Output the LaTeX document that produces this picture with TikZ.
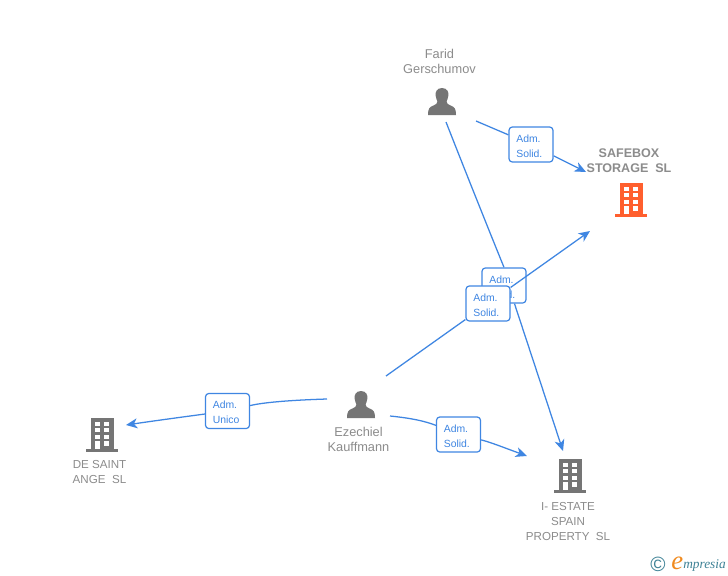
\documentclass[tikz,border=0pt]{standalone}
\usepackage{fontspec}
\setmainfont{Liberation Sans}
\newfontfamily\logofont{Liberation Serif}
\usetikzlibrary{arrows.meta}
\definecolor{linkblue}{HTML}{3F86E2}
\definecolor{labtext}{HTML}{3F86E2}
\definecolor{greytext}{HTML}{8C8C8C}
\definecolor{icongrey}{HTML}{757575}
\definecolor{iconorange}{HTML}{FF5F2E}
\definecolor{logoteal}{HTML}{3E8296}
\definecolor{logoorange}{HTML}{F08A1E}
\pgfdeclarelayer{bglines}
\pgfdeclarelayer{rearlabels}
\pgfdeclarelayer{toplines}
\pgfsetlayers{bglines,rearlabels,toplines,main}
\tikzset{
  x=0.75pt,y=-0.75pt,
  conn/.style={draw=linkblue,line width=0.95pt,-{Stealth[length=8.5pt,width=7.5pt,inset=2.5pt]}},
  lab/.style={draw=linkblue,line width=0.9pt,rounded corners=2.5pt,fill=white,minimum width=33pt,minimum height=26.3pt,inner sep=0pt,
    text=labtext,font=\fontsize{7.8pt}{11.25pt}\selectfont,align=left,text width=22pt},
  nametext/.style={text=greytext,font=\fontsize{9.6pt}{11.25pt}\selectfont,align=center,inner sep=0pt},
  capsname/.style={nametext,font=\fontsize{8.7pt}{11.25pt}\selectfont},
  boldname/.style={nametext,font=\fontsize{9.4pt}{11.25pt}\selectfont\bfseries},
  iconbox/.style={minimum width=24pt,minimum height=25pt,inner sep=0pt}
}
\newcommand{\personicon}[1]{%
  \begin{scope}[shift={(#1)}]
    \fill[icongrey] (0,-14) .. controls (-5.5,-14) and (-6.8,-9.5) .. (-6.4,-6.5)
      .. controls (-6.1,-3.5) and (-5,-2) .. (-4.6,-0.5)
      .. controls (-4.6,1.5) and (-6,2.5) .. (-8.5,3.5)
      .. controls (-12.5,5) and (-14,6.5) .. (-14,13) -- (14,13)
      .. controls (14,6.5) and (12.5,5) .. (8.5,3.5)
      .. controls (6,2.5) and (4.6,1.5) .. (4.6,-0.5)
      .. controls (5,-2) and (6.1,-3.5) .. (6.4,-6.5)
      .. controls (6.8,-9.5) and (5.5,-14) .. (0,-14) -- cycle;
  \end{scope}}
\newcommand{\buildingicon}[2]{%
  \begin{scope}[shift={(#1)}]
    \fill[#2] (-11.5,-17) rectangle (11.5,14);
    \fill[#2] (-16,14) rectangle (16,17);
    \fill[white] (-7.3,-13) rectangle (-1.9,-9.3);
    \fill[white] (2,-13) rectangle (7.4,-9.3);
    \fill[white] (-7.3,-7) rectangle (-1.9,-2.9);
    \fill[white] (2,-7) rectangle (7.4,-2.9);
    \fill[white] (-7.3,-0.4) rectangle (-1.9,4);
    \fill[white] (2,-0.4) rectangle (7.4,4);
    \fill[white] (-7.3,6.3) rectangle (-1.9,14);
    \fill[white] (2,6.3) rectangle (7.4,11);
  \end{scope}}
\begin{document}
\begin{tikzpicture}
\begin{pgfonlayer}{bglines}
  \fill[white] (0,0) rectangle (728,575);
\end{pgfonlayer}
\useasboundingbox (0,0) rectangle (728,575);

% icons
\personicon{442,102}
\personicon{361,405}
\buildingicon{631,200}{iconorange}
\buildingicon{102,435}{icongrey}
\buildingicon{570,476}{icongrey}
\node[iconbox] (farid) at (442,102) {};
\node[iconbox] (ezechiel) at (361,405) {};
\node[iconbox] (safebox) at (631,200) {};
\node[iconbox] (desaint) at (102,435) {};
\node[iconbox] (iestate) at (570,476) {};

% texts
\node[nametext] (faridtext) at (439.5,61.5) {Farid\\Gerschumov};
\node[nametext] (ezechieltext) at (358.5,439.5) {Ezechiel\\Kauffmann};
\node[boldname] (safeboxtext) at (629,161) {SAFEBOX\\STORAGE\ \ SL};
\node[capsname] (desainttext) at (99.5,472) {DE SAINT\\ANGE\ \ SL};
\node[capsname] (iestatetext) at (568,521.5) {I- ESTATE\\SPAIN\\PROPERTY\ \ SL};

% connector free ends
\coordinate (fa) at (476,121);
\coordinate (fb) at (446,122);
\coordinate (ea) at (386,376);
\coordinate (eb) at (327,399);
\coordinate (ec) at (390,416);
\coordinate (ts) at (586,172);
\coordinate (tt) at (590,231);
\coordinate (ti) at (563,451);
\coordinate (td) at (126,425);
\coordinate (tj) at (527,456);

% labels
\node[lab] (l1) at (531,144.5) {\rule{0pt}{8.3pt}Adm.\\Solid.};
\node[lab] (l3) at (488,303.5) {\rule{0pt}{8.3pt}Adm.\\Solid.};
\node[lab] (l4) at (227.5,411) {\rule{0pt}{8.3pt}Adm.\\Unico};
\node[lab] (l5) at (458.5,434.5) {\rule{0pt}{8.3pt}Adm.\\Solid.};
\begin{pgfonlayer}{rearlabels}
  \node[lab] (l2) at (504,285.5) {\rule{0pt}{8.3pt}Adm.\\Solid.};
\end{pgfonlayer}

% connectors
\begin{pgfonlayer}{bglines}
  \draw[conn,-] (fb) .. controls (468,178) and (488,228) .. (l2.north);
  \draw[conn] (l2.-60) -- (ti);
\end{pgfonlayer}
\begin{pgfonlayer}{toplines}
  \draw[conn,-] (fa) -- (l1);
  \draw[conn] (l1) -- (ts);
  \draw[conn,-] (ea) -- (l3);
  \draw[conn] (l3) -- (tt);
  \draw[conn,-] (eb) .. controls (295,400) and (265,402) .. (l4);
  \draw[conn] (l4) .. controls (190,416) and (160,420) .. (td);
  \draw[conn,-] (ec) .. controls (410,418) and (425,421) .. (l5);
  \draw[conn] (l5) .. controls (490,442) and (505,448) .. (tj);
\end{pgfonlayer}

% logo
\node[text=logoteal,font=\fontsize{15.5pt}{15.5pt}\selectfont,inner sep=0pt] (logoc) at (658,564) {©};
\node[text=logoorange,font=\fontsize{20pt}{20pt}\logofont\itshape,inner sep=0pt,anchor=base west] (logoe) at (671,569) {e};
\node[text=logoteal,font=\fontsize{10pt}{11pt}\logofont\itshape,inner sep=0pt,anchor=base west] (logot) at (683,568) {mpresia};
\end{tikzpicture}
\end{document}
